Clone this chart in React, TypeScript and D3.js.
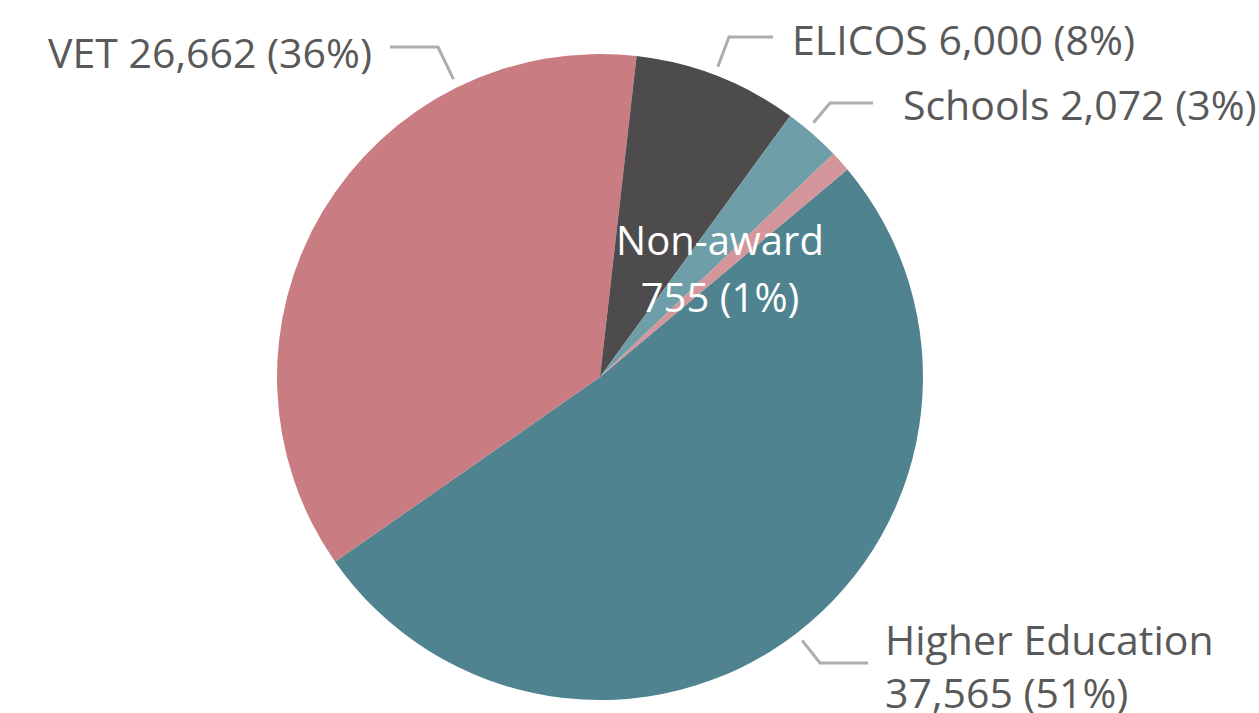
import { arc as d3Arc, pie as d3Pie, format } from "d3";
import { useMemo } from "react";

const categories = ["Higher Education", "VET", "ELICOS", "Schools", "Non-award"];
const values = [37565, 26662, 6000, 2072, 755];
const percents = ["51%", "36%", "8%", "3%", "1%"];
const colors = ["#4E838F", "#C97D82", "#4E4B4D", "#6E9EA7", "#D4959B"];

const width = 1259;
const height = 713;
const cx = 600;
const cy = 377;
const radius = 323;
const startDeg = 50;

const fmt = format(",");

// label layout: leader start angle (deg from top), elbow, end, text position
type LabelLayout = {
  lines: (name: string, v: string, p: string) => string[];
  leaderAngle: number;
  elbow: [number, number];
  end: [number, number];
  text: [number, number];
  anchor: "start" | "end" | "middle";
};

const layouts: (LabelLayout | null)[] = [
  {
    lines: (n, v, p) => [n, `${v} (${p})`],
    leaderAngle: 142.5,
    elbow: [820, 663],
    end: [868, 663],
    text: [885, 655],
    anchor: "start"
  },
  {
    lines: (n, v, p) => [`${n} ${v} (${p})`],
    leaderAngle: -26.2,
    elbow: [438, 47],
    end: [390, 47],
    text: [372, 68],
    anchor: "end"
  },
  {
    lines: (n, v, p) => [`${n} ${v} (${p})`],
    leaderAngle: 20.8,
    elbow: [729, 37],
    end: [773, 37],
    text: [792, 55],
    anchor: "start"
  },
  {
    lines: (n, v, p) => [`${n} ${v} (${p})`],
    leaderAngle: 40,
    elbow: [830, 103],
    end: [873, 103],
    text: [903, 120],
    anchor: "start"
  },
  null
];

export default function App() {
  const arcs = useMemo(() => {
    const start = (startDeg * Math.PI) / 180;
    return d3Pie<number>()
      .sort(null)
      .startAngle(start)
      .endAngle(start + Math.PI * 2)(values);
  }, []);

  const arc = d3Arc<any>().innerRadius(0).outerRadius(radius);
  const leaderR = radius + 9;

  return (
    <svg
      width={width}
      height={height}
      style={{ position: "fixed", left: 0, top: 0, background: "#fff" }}
      fontFamily="'Open Sans', sans-serif"
    >
      <g transform={`translate(${cx},${cy})`}>
        {arcs.map((a, i) => (
          <path key={categories[i]} d={arc(a) ?? undefined} fill={colors[i]} />
        ))}
      </g>
      {layouts.map((l, i) => {
        if (!l) return null;
        const rad = (l.leaderAngle * Math.PI) / 180;
        const sx = cx + leaderR * Math.sin(rad);
        const sy = cy - leaderR * Math.cos(rad);
        const lines = l.lines(categories[i], fmt(values[i]), percents[i]);
        return (
          <g key={categories[i]}>
            <polyline
              points={`${sx},${sy} ${l.elbow[0]},${l.elbow[1]} ${l.end[0]},${l.end[1]}`}
              fill="none"
              stroke="#ADADAD"
              strokeWidth={3}
            />
            <text x={l.text[0]} y={l.text[1]} fontSize={41} fill="#595959" textAnchor={l.anchor}>
              {lines.map((t, j) => (
                <tspan key={j} x={l.text[0]} dy={j === 0 ? 0 : 53}>
                  {t}
                </tspan>
              ))}
            </text>
          </g>
        );
      })}
      <text x={720} y={255} fontSize={40} fill="#fff" textAnchor="middle">
        <tspan x={720}>{categories[4]}</tspan>
        <tspan x={720} dy={57}>{`${fmt(values[4])} (${percents[4]})`}</tspan>
      </text>
    </svg>
  );
}
